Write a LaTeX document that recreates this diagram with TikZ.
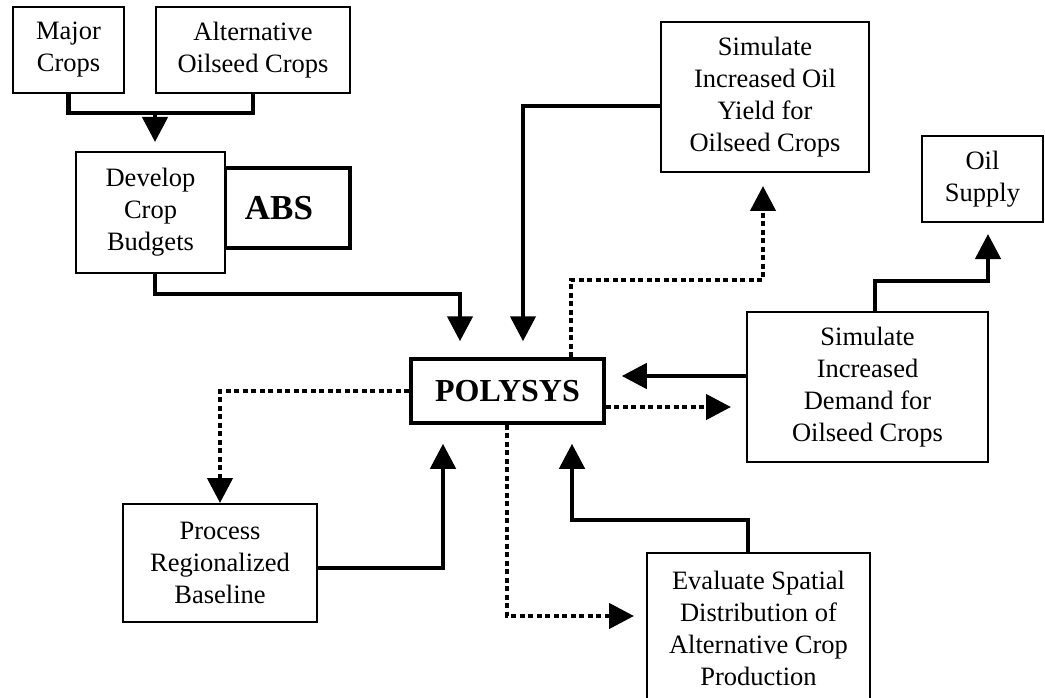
\documentclass[tikz,border=0pt]{standalone}
\usepackage{fontspec}
\setmainfont{Liberation Serif}
\usetikzlibrary{arrows.meta}
\tikzset{
  box/.style={draw, line width=2pt, fill=white, inner sep=0pt, align=center,
    font=\fontsize{26.5}{32}\selectfont},
  polybox/.style={box, line width=3.5pt, font=\fontsize{32}{36}\selectfont\bfseries},
  absbox/.style={draw, line width=4.5pt, inner sep=0pt, align=center,
    font=\fontsize{35}{38}\selectfont\bfseries},
  conn/.style={line width=4.5pt},
  arr/.style={line width=4.5pt, -{Triangle[width=25pt,length=25pt]}},
  dotarr/.style={line width=4.5pt, dash pattern=on 5pt off 3.5pt,
    -{Triangle[width=25pt,length=25pt]}},
}
\begin{document}
\begin{tikzpicture}[x=1pt,y=-1pt]
\useasboundingbox (0,0) rectangle (1045,698);
% nodes
\node[box, minimum width=111pt, minimum height=86pt] (major) at (68.5,50) {Major\\Crops};
\node[box, minimum width=194pt, minimum height=86pt] (alt) at (253,50) {Alternative\\Oilseed Crops};
\node[absbox, minimum width=125pt, minimum height=80pt, text width=110pt] (abs) at (287.5,208) {\hspace*{-17pt}ABS};
\node[box, minimum width=149pt, minimum height=121pt] (dev) at (150.5,212.5) {Develop\\Crop\\Budgets};
\node[polybox, minimum width=193pt, minimum height=64pt] (poly) at (507.5,391) {POLYSYS};
\node[box, minimum width=208pt, minimum height=150pt] (yield) at (765,97) {Simulate\\Increased Oil\\Yield for\\Oilseed Crops};
\node[box, minimum width=121pt, minimum height=86pt] (oil) at (982.5,179) {Oil\\Supply};
\node[box, minimum width=241pt, minimum height=150pt] (demand) at (867.5,387) {Simulate\\Increased\\Demand for\\Oilseed Crops};
\node[box, minimum width=194pt, minimum height=118pt] (proc) at (220,563) {Process\\Regionalized\\Baseline};
\node[box, minimum width=223pt, minimum height=150pt] (eval) at (758.5,628) {Evaluate Spatial\\Distribution of\\Alternative Crop\\Production};
% helper coordinates
\coordinate (j1) at (155,113);
\coordinate (c2) at (460,294);
\coordinate (c3) at (523,106);
\coordinate (c4a) at (571,280);
\coordinate (c4b) at (763,280);
\coordinate (c5a) at (875,281);
\coordinate (c5b) at (988,281);
\coordinate (c6) at (700,376);
\coordinate (c7) at (700,407);
\coordinate (c9) at (443,568);
\coordinate (c10) at (507,616);
\coordinate (c11a) at (748,520);
\coordinate (c11b) at (572,520);
% connectors
\draw[conn] (major.south) |- (j1) -| (alt.south);
\draw[arr, shorten >=9pt] (j1) -- (j1 |- dev.north);
\draw[arr, shorten >=16pt] (dev.south -| j1) |- (c2) -- (c2 |- poly.north);
\draw[arr, shorten >=16pt] (c3 -| yield.west) -- (c3) -- (c3 |- poly.north);
\draw[dotarr, shorten >=13pt] (c4a |- poly.north) -- (c4a) -- (c4b) -- (c4b |- yield.south);
\draw[arr, shorten >=11pt] (c5a |- demand.north) -- (c5a) -- (c5b) -- (c5b |- oil.south);
\draw[arr, shorten >=16pt] (c6 -| demand.west) -- (c6 -| poly.east);
\draw[dotarr, shorten >=15pt] (c7 -| poly.east) -- (c7 -| demand.west);
\draw[dotarr] (poly.west) -| (proc.north);
\draw[arr, shorten >=19pt] (c9 -| proc.east) -- (c9) -- (c9 |- poly.south);
\draw[dotarr, shorten >=12pt] (c10 |- poly.south) -- (c10) -- (c10 -| eval.west);
\draw[arr, shorten >=19pt] (c11a |- eval.north) -- (c11a) -- (c11b) -- (c11b |- poly.south);
\end{tikzpicture}
\end{document}
